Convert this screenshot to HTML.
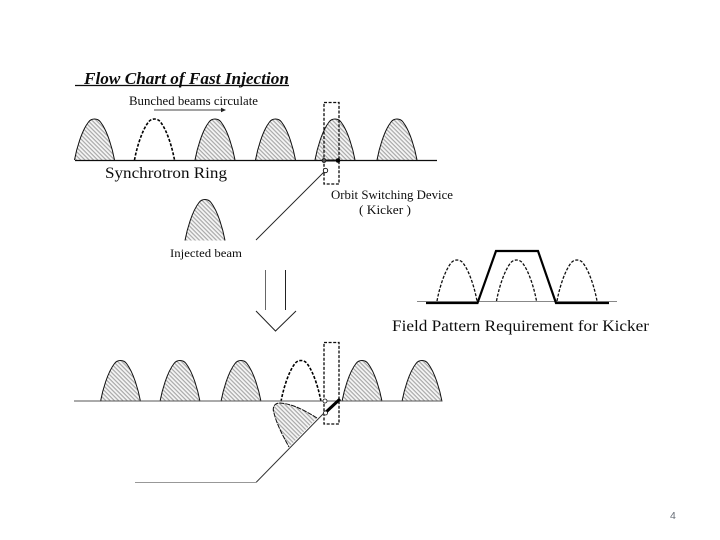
<!DOCTYPE html>
<html>
<head>
<meta charset="utf-8">
<style>
html,body{margin:0;padding:0;background:#fff;width:720px;height:540px;overflow:hidden}
svg{display:block}
text{font-family:"Liberation Serif",serif;fill:#111}
</style>
</head>
<body>
<svg width="720" height="540" viewBox="0 0 720 540" xmlns="http://www.w3.org/2000/svg">
<defs>
<pattern id="h" width="3" height="3" patternUnits="userSpaceOnUse" patternTransform="rotate(45)">
<rect width="3" height="3" fill="#f6f6f6"/>
<rect width="3" height="1.2" fill="#a8a8a8"/>
</pattern>
<path id="hump" d="M0 41 C2 30 7 12 14 3 C17 -1 23 -1 26 3 C33 12 38 30 40 41"/>
<filter id="b" x="0" y="0" width="100%" height="100%"><feGaussianBlur stdDeviation="0.35"/></filter>
</defs>
<g filter="url(#b)">
<!-- title -->
<text x="84" y="84" font-size="16.5" font-weight="bold" font-style="italic" textLength="205" lengthAdjust="spacingAndGlyphs" fill="#000">Flow Chart of Fast Injection</text>
<line x1="75" y1="85.5" x2="289" y2="85.5" stroke="#111" stroke-width="1.3"/>
<text x="129" y="105" font-size="12.5" textLength="129" lengthAdjust="spacingAndGlyphs">Bunched beams circulate</text>
<line x1="154" y1="110" x2="222" y2="110" stroke="#444" stroke-width="1"/>
<path d="M226 110 L221 107.8 V112.2 Z" fill="#222"/>

<!-- top row -->
<g fill="url(#h)" stroke="#111" stroke-width="1">
<use href="#hump" x="74.5" y="119"/>
<use href="#hump" x="195" y="119"/>
<use href="#hump" x="255.5" y="119"/>
<use href="#hump" x="315" y="119"/>
<use href="#hump" x="377" y="119"/>
<use href="#hump" x="185" y="199.5"/>
</g>
<use href="#hump" x="134.5" y="119" fill="none" stroke="#000" stroke-width="1.6" stroke-dasharray="3 1.6"/>
<line x1="75" y1="160.5" x2="437" y2="160.5" stroke="#111" stroke-width="1.3"/>
<rect x="324" y="102.5" width="15" height="81.5" fill="none" stroke="#111" stroke-width="1.3" stroke-dasharray="3 1.6"/>
<line x1="324" y1="160.5" x2="338" y2="160.5" stroke="#111" stroke-width="2"/>
<circle cx="324" cy="160.5" r="2" fill="#555" stroke="#111" stroke-width=".8"/>
<circle cx="338" cy="160.5" r="2.3" fill="#000"/>
<circle cx="325.5" cy="170.5" r="2.2" fill="#fff" stroke="#111" stroke-width=".9"/>
<line x1="324" y1="172" x2="256" y2="240" stroke="#222" stroke-width=".9"/>
<text x="105" y="178" font-size="16" textLength="122" lengthAdjust="spacingAndGlyphs">Synchrotron Ring</text>
<text x="331" y="199" font-size="12.5" textLength="122" lengthAdjust="spacingAndGlyphs">Orbit Switching Device</text>
<text x="359" y="214" font-size="12.5" textLength="52" lengthAdjust="spacingAndGlyphs">( Kicker )</text>
<text x="170" y="257" font-size="12" textLength="72" lengthAdjust="spacingAndGlyphs">Injected beam</text>

<!-- down arrow -->
<line x1="265.5" y1="270" x2="265.5" y2="310" stroke="#666" stroke-width="1"/>
<line x1="285.5" y1="270" x2="285.5" y2="310" stroke="#222" stroke-width="1"/>
<path d="M256 311 L275.5 331 L296 311" fill="none" stroke="#222" stroke-width="1"/>

<!-- field pattern -->
<line x1="417" y1="301.5" x2="617" y2="301.5" stroke="#888" stroke-width="1"/>
<g fill="none" stroke="#111" stroke-width="1.3" stroke-dasharray="3 1.6">
<use href="#hump" x="437" y="260"/>
<use href="#hump" x="496.5" y="260"/>
<use href="#hump" x="557" y="260"/>
</g>
<path d="M426 303 H477.5 L496 251 H538 L556 303 H609" fill="none" stroke="#000" stroke-width="2.2"/>
<text x="392" y="331" font-size="15.5" textLength="257" lengthAdjust="spacingAndGlyphs">Field Pattern Requirement for Kicker</text>

<!-- bottom row -->
<g fill="url(#h)" stroke="#111" stroke-width="1">
<use href="#hump" x="100.5" y="360.5"/>
<use href="#hump" x="160" y="360.5"/>
<use href="#hump" x="221" y="360.5"/>
<use href="#hump" x="342" y="360.5"/>
<use href="#hump" x="402" y="360.5"/>
</g>
<path d="M317 418 L289 447 C283 436 277 425 274 413 C272 408 274 403 280 403 C293 404 304 410 317 418 Z" fill="url(#h)" stroke="none"/>
<path d="M317 418 C304 410 293 404 280 403 C274 403 272 408 274 413 C277 425 283 436 289 447" fill="none" stroke="#111" stroke-width="1" stroke-dasharray="5 1"/>
<use href="#hump" x="281" y="360.5" fill="none" stroke="#000" stroke-width="1.6" stroke-dasharray="3 1.6"/>
<line x1="74" y1="401" x2="442" y2="401" stroke="#555" stroke-width="1"/>
<rect x="324" y="342.5" width="15" height="81.5" fill="none" stroke="#111" stroke-width="1.3" stroke-dasharray="3 1.6"/>
<line x1="325" y1="413" x2="340" y2="399" stroke="#000" stroke-width="3"/>
<circle cx="325" cy="401" r="2" fill="#fff" stroke="#111" stroke-width=".8"/>
<circle cx="325.5" cy="413" r="2" fill="#fff" stroke="#111" stroke-width=".8"/>
<path d="M324 413 L256 482.5 H135" fill="none" stroke="#333" stroke-width="1"/>
</g>
<text x="670" y="519" font-size="10.5" style="font-family:'Liberation Sans',sans-serif;fill:#666c76">4</text>
</svg>
</body>
</html>
